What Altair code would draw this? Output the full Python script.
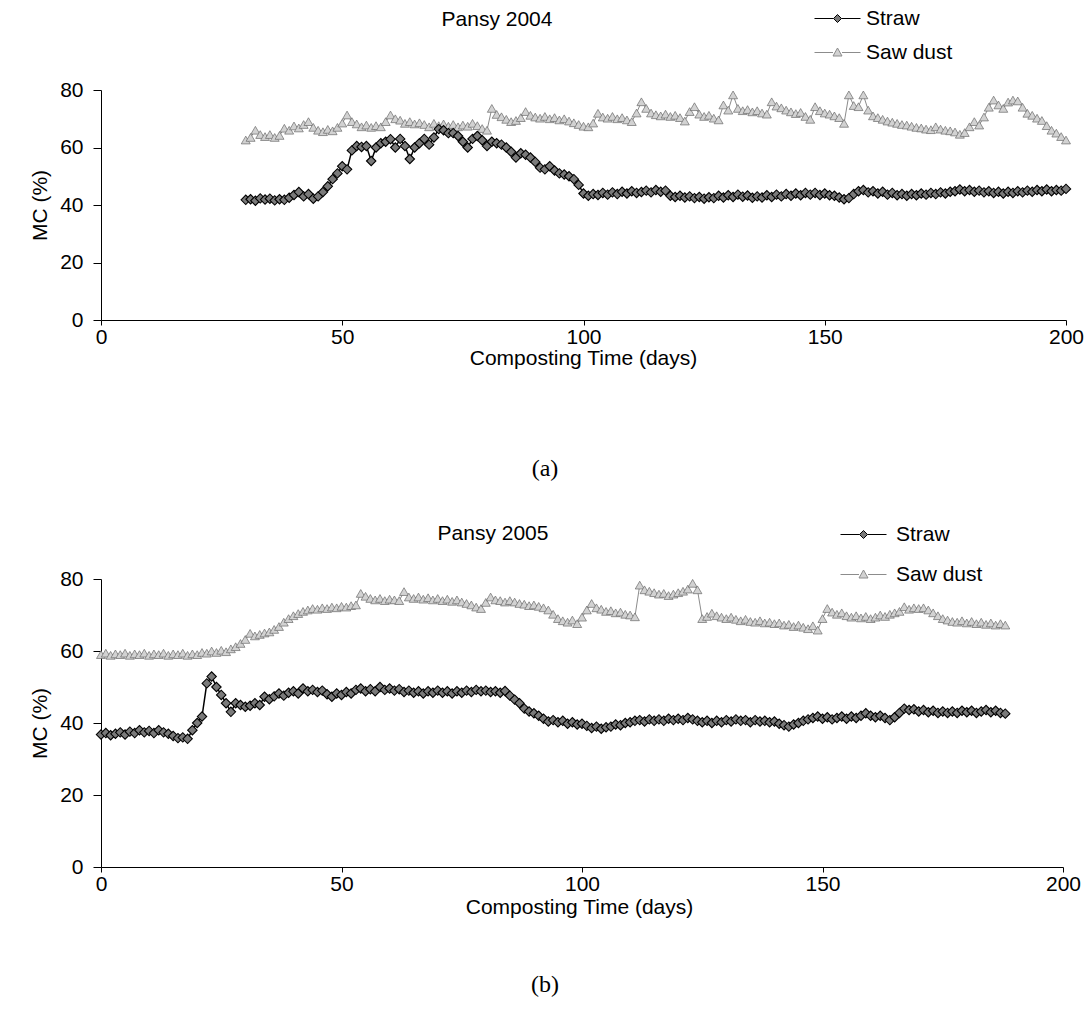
import altair as alt
import pandas as pd

# ---------------- data ----------------
SERIES = ["Straw", "Saw dust"]
X_TICKS = [0, 50, 100, 150, 200]
Y_TICKS = [0, 20, 40, 60, 80]

# Pansy 2004 : days 30 .. 200
A_DAYS = list(range(30, 201))
A_STRAW = [
    41.8, 42.0, 41.5, 42.3, 41.9, 42.2, 41.6, 42.0, 41.8, 42.5,
    43.5, 44.5, 43.0, 43.8, 42.2, 43.0, 44.5, 46.5, 49.0, 51.0,
    53.5, 52.4, 59.0, 60.5, 60.2, 60.5, 55.3, 60.0, 61.5, 62.0,
    62.9, 60.0, 63.0, 60.5, 56.0, 60.0, 61.5, 63.0, 61.0, 63.5,
    66.4, 66.0, 65.0, 65.0, 64.0, 62.0, 60.0, 63.0, 64.0, 62.5,
    60.5, 62.0, 61.5, 61.0, 60.0, 58.5, 56.5, 58.0, 57.5, 56.5,
    55.0, 53.0, 52.4, 53.5, 52.0, 51.0, 50.6, 50.0, 49.0, 47.0,
    44.0, 43.2, 43.8, 43.5, 44.2, 43.6, 44.4, 43.8, 44.6, 44.0,
    44.8, 44.2, 44.5, 45.0, 44.4, 45.2, 44.6, 45.0, 43.2, 42.8,
    43.2, 42.6, 43.0, 42.4, 42.8, 42.2, 42.7, 42.4, 43.2, 42.6,
    43.4, 42.8, 43.6, 42.9, 43.3, 42.5, 43.0, 42.6, 43.4, 42.8,
    43.6, 43.0, 43.8, 43.2, 44.0, 43.4, 44.2, 43.6, 44.2, 43.5,
    44.0, 43.4, 43.2, 42.6, 42.0, 42.4, 43.8, 44.8, 45.2, 44.4,
    44.8, 44.0, 44.6, 43.6, 44.2, 43.4, 43.8, 43.2, 43.8, 43.4,
    44.0, 43.6, 44.2, 43.8, 44.4, 44.0, 44.6, 44.8, 45.4, 44.8,
    45.2, 44.6, 45.0, 44.4, 44.8, 44.2, 44.6, 44.0, 44.6, 44.2,
    44.8, 44.4, 45.0, 44.6, 45.2, 44.8, 45.4, 44.8, 45.2, 45.0, 45.6,
]
A_SAWDUST = [
    62.6, 63.5, 66.0, 64.5, 63.8, 64.5, 63.5, 64.2, 66.7, 66.0,
    67.5, 66.8, 68.0, 69.0, 67.0, 66.0, 65.5, 66.3, 65.8, 67.0,
    68.5, 71.3, 69.0, 68.2, 67.2, 67.8, 67.0, 67.6, 67.2, 69.0,
    71.3, 70.0, 69.5, 68.4, 69.0, 68.2, 68.6, 68.0, 67.2, 68.4,
    67.6, 68.2, 67.4, 68.0, 67.2, 67.8, 67.4, 68.4, 67.6, 66.6,
    66.0, 73.6, 71.5, 70.7, 69.8, 69.0, 69.4, 70.4, 72.5, 71.2,
    70.6, 70.2, 70.8, 70.0, 70.4, 69.6, 70.0, 69.2, 68.6, 68.0,
    67.4, 67.2, 68.5, 71.9, 70.6, 70.2, 70.8, 70.0, 70.4, 69.6,
    69.0, 72.0, 75.9, 73.6, 72.0, 71.4, 71.0, 71.6, 70.8, 71.2,
    70.4, 69.2, 72.5, 74.2, 71.6, 70.8, 71.2, 70.2, 69.6, 74.8,
    73.0, 78.3, 73.6, 72.8, 73.2, 72.4, 72.8, 72.0, 71.6, 75.9,
    74.4, 73.8, 73.0, 72.4, 71.8, 72.2, 70.8, 69.8, 74.2, 72.8,
    72.0, 71.6, 71.0, 70.4, 68.4, 78.3, 74.6, 74.2, 78.3, 73.0,
    71.0, 70.4, 69.8, 69.2, 68.8, 68.4, 68.0, 67.8, 67.4, 67.0,
    66.8, 66.4, 66.2, 67.2, 66.4, 66.0, 65.8, 65.4, 64.6, 65.2,
    67.2, 69.0, 67.8, 70.6, 74.0, 76.5, 74.8, 73.6, 75.8, 76.5,
    76.2, 74.0, 71.9, 71.2, 70.2, 69.4, 67.6, 66.0, 65.0, 63.8, 62.6,
]

# Pansy 2005 : days 0 .. 188
B_DAYS = list(range(0, 189))
B_STRAW = [
    36.8, 37.2, 36.6, 37.0, 37.4, 36.8, 37.6, 37.2, 38.0, 37.4,
    37.8, 37.2, 38.0, 37.4, 37.0, 36.4, 35.8, 36.0, 35.6, 38.0,
    40.0, 41.8, 51.0, 52.9, 50.0, 47.8, 45.5, 43.1, 45.5, 45.0,
    44.5, 44.8, 45.5, 45.0, 47.3, 46.6, 47.4, 48.2, 47.6, 48.4,
    48.8, 48.2, 49.6, 48.8, 49.2, 48.6, 49.0, 48.0, 47.3, 48.2,
    47.8, 48.6, 48.2, 49.2, 49.6, 48.8, 49.4, 48.8, 50.0, 49.2,
    49.6, 49.0, 49.4, 48.6, 49.0, 48.4, 48.8, 48.2, 48.8, 48.4,
    49.0, 48.4, 48.8, 48.2, 48.8, 48.4, 49.0, 48.6, 49.2, 48.8,
    49.0, 48.6, 48.8, 48.4, 48.9, 47.6, 46.5, 45.5, 44.0, 43.2,
    42.7, 42.0, 41.2, 40.4, 40.8, 40.2, 40.6, 39.8, 40.2, 39.6,
    39.8, 39.2, 38.6, 39.0, 38.4, 38.8, 39.0, 39.6, 39.4, 40.0,
    40.2, 40.6, 40.8, 40.4, 41.0, 40.6, 41.0, 40.6, 41.2, 40.8,
    41.2, 40.8, 41.4, 41.0, 40.6, 40.2, 40.6, 40.0, 40.6, 40.2,
    40.8, 40.4, 41.0, 40.6, 40.8, 40.2, 40.8, 40.4, 40.6, 40.2,
    40.4, 39.8, 39.4, 39.0, 39.6, 40.0, 40.6, 41.0, 41.4, 41.8,
    41.2, 41.6, 41.0, 41.4, 41.8, 41.2, 41.8, 41.4, 42.0, 42.7,
    42.0, 41.6, 42.0, 41.4, 40.8, 41.6, 42.8, 44.0, 43.6, 43.8,
    43.2, 43.6, 43.0, 43.4, 42.8, 43.2, 42.8, 43.2, 42.8, 43.4,
    43.0, 43.4, 42.8, 43.2, 43.6, 43.0, 43.4, 42.8, 42.6,
]
B_SAWDUST = [
    59.0, 59.4, 58.8, 59.2, 59.0, 59.4, 58.8, 59.2, 59.0, 59.4,
    58.8, 59.2, 59.0, 59.4, 58.8, 59.2, 59.0, 59.4, 58.8, 59.2,
    59.0, 59.6, 59.4, 60.0, 59.6, 60.2, 59.8, 60.6, 61.2, 62.1,
    63.2, 64.9, 64.2, 64.6, 65.0, 65.3, 66.0, 66.8, 68.0, 69.0,
    69.8, 70.4, 71.0, 71.4, 71.8, 71.6, 72.0, 71.8, 72.2, 72.0,
    72.4, 72.2, 72.6, 72.8, 76.0, 75.2, 74.6, 74.2, 74.6, 74.0,
    74.4, 74.2, 74.0, 76.5, 75.0, 74.6, 75.0, 74.4, 74.8, 74.2,
    74.6, 74.0, 74.4, 73.8, 74.2, 73.6, 73.2, 72.8, 72.2, 71.8,
    73.5, 75.0, 74.2, 74.0, 73.6, 74.0, 73.6, 73.2, 73.0, 72.6,
    72.8, 72.4, 72.0, 71.4, 70.2, 69.0, 68.4, 68.0, 68.6, 67.6,
    69.4, 71.4, 73.2, 72.0, 71.6, 71.0, 71.2, 70.6, 70.8, 70.2,
    70.0, 69.5, 78.3, 77.0, 76.6, 76.2, 75.8, 76.0, 75.4, 75.8,
    76.2, 76.6, 77.2, 78.8, 77.0, 69.0, 69.6, 70.5, 69.8, 69.4,
    69.0, 69.4, 68.8, 68.4, 68.8, 68.2, 68.0, 68.4, 67.8, 68.0,
    67.6, 67.8, 67.2, 67.4, 66.8, 67.2, 66.6, 66.2, 67.0, 65.8,
    69.0, 71.8, 70.8, 70.2, 70.6, 69.8, 69.4, 69.8, 69.2, 69.6,
    69.0, 69.4, 70.0, 69.6, 70.2, 70.6, 71.0, 72.3, 71.6, 72.0,
    71.8, 72.0, 71.4, 70.6, 69.8, 69.0, 68.6, 68.2, 68.0, 68.4,
    67.8, 68.2, 67.6, 68.0, 67.4, 67.8, 67.2, 67.6, 67.2,
]

assert len(A_DAYS) == len(A_STRAW) == len(A_SAWDUST), (len(A_STRAW), len(A_SAWDUST))
assert len(B_DAYS) == len(B_STRAW) == len(B_SAWDUST), (len(B_STRAW), len(B_SAWDUST))

# ---------------- styling ----------------
W, H = 1091, 1011
FONT = "Liberation Sans"
SERIF = "Liberation Serif"
FS = 21

STRAW_LINE = "black"
STRAW_FILL = "#7a7a7a"
SAW_LINE = "#8c8c8c"
SAW_FILL = "#d2d2d2"
SAW_EDGE = "#6a6a6a"

# legend glyphs: short line with marker in the middle (unit = sqrt(size)/2 px)
P_STRAW = "M-4.6,0H-0.8M0.8,0H4.6M0,-0.8L0.8,0L0,0.8L-0.8,0Z"
P_SAW = "M-4.6,0H-0.9M0.9,0H4.6M0,-0.9L0.9,0.7L-0.9,0.7Z"

DUMMY = pd.DataFrame({"k": [0]})


def text(s, xv, yv, size=FS, font=FONT):
    return alt.Chart(DUMMY).mark_text(
        text=s, font=font, fontSize=size, color="black", align="center", baseline="middle"
    ).encode(x=alt.value(xv), y=alt.value(yv))


def panel(days, straw, saw, xr, yr, title, title_xy, leg_xy, leg_rowpad, leg_laboff,
          ytitle_y, xtitle_x, xtitle_dy, caption, cap_xy):
    df_s = pd.DataFrame({"day": days, "mc": straw, "series": "Straw"})
    df_d = pd.DataFrame({"day": days, "mc": saw, "series": "Saw dust"})

    x = alt.X(
        "day:Q",
        scale=alt.Scale(domain=[0, 200], range=xr, nice=False, zero=False),
        axis=alt.Axis(
            orient="bottom", offset=yr[0] - H, values=X_TICKS, format="d", grid=False,
            domainColor="black", tickColor="black", tickSize=5, labelPadding=1,
            labelFont=FONT, labelFontSize=FS, labelColor="black", labelFlush=False,
            title="Composting Time (days)", titleFont=FONT, titleFontSize=FS,
            titleFontWeight="normal", titleColor="black", titleX=xtitle_x, titleY=xtitle_dy,
            titleAlign="center", titleBaseline="middle",
        ),
    )
    y = alt.Y(
        "mc:Q",
        scale=alt.Scale(domain=[0, 80], range=yr, nice=False, zero=True),
        axis=alt.Axis(
            orient="left", offset=-xr[0], values=Y_TICKS, format="d", grid=False,
            domainColor="black", tickColor="black", tickSize=8, labelPadding=10,
            labelFont=FONT, labelFontSize=FS, labelColor="black",
            title="MC (%)", titleFont=FONT, titleFontSize=FS, titleFontWeight="normal",
            titleColor="black", titleX=40 - xr[0], titleY=ytitle_y, titleAngle=270,
            titleAlign="center", titleBaseline="middle",
        ),
    )

    saw_line = alt.Chart(df_d).mark_line(color=SAW_LINE, strokeWidth=1).encode(x=x, y=y)
    saw_pts = alt.Chart(df_d).mark_point(
        shape="triangle-up", filled=True, size=80, fill=SAW_FILL, stroke=SAW_EDGE,
        strokeWidth=0.7, opacity=1,
    ).encode(x=x, y=y)
    straw_line = alt.Chart(df_s).mark_line(color=STRAW_LINE, strokeWidth=1.5).encode(x=x, y=y)
    straw_pts = alt.Chart(df_s).mark_point(
        shape="diamond", filled=True, size=88, fill=STRAW_FILL, stroke="black",
        strokeWidth=1.1, opacity=1,
    ).encode(x=x, y=y)

    leg = alt.Legend(
        orient="none", legendX=leg_xy[0], legendY=leg_xy[1], title=None,
        labelFont=FONT, labelFontSize=FS, labelColor="black", labelOffset=leg_laboff,
        symbolSize=100, symbolStrokeWidth=1, rowPadding=leg_rowpad, padding=0,
    )
    legend_layer = alt.Chart(df_s).transform_filter("false").mark_point(
        filled=True, opacity=1
    ).encode(
        shape=alt.Shape("series:N", scale=alt.Scale(domain=SERIES, range=[P_STRAW, P_SAW]), legend=leg),
        fill=alt.Fill("series:N", scale=alt.Scale(domain=SERIES, range=[STRAW_FILL, SAW_FILL]), legend=leg),
        stroke=alt.Stroke("series:N", scale=alt.Scale(domain=SERIES, range=[STRAW_LINE, SAW_LINE]), legend=leg),
    )

    return alt.layer(
        saw_line, saw_pts, straw_line, straw_pts, legend_layer,
        text(title, *title_xy),
        text(caption, *cap_xy, size=24, font=SERIF),
    )


pA = panel(A_DAYS, A_STRAW, A_SAWDUST, xr=[101, 1066], yr=[320, 90],
           title="Pansy 2004", title_xy=(497, 20), leg_xy=(827, 8), leg_rowpad=12, leg_laboff=18,
           ytitle_y=205, xtitle_x=583, xtitle_dy=38, caption="(a)", cap_xy=(545, 469))
pB = panel(B_DAYS, B_STRAW, B_SAWDUST, xr=[101, 1063], yr=[867, 579],
           title="Pansy 2005", title_xy=(493, 534), leg_xy=(853, 524), leg_rowpad=18, leg_laboff=22,
           ytitle_y=723, xtitle_x=579, xtitle_dy=40, caption="(b)", cap_xy=(545, 985))

chart = (
    alt.layer(pA, pB)
    .resolve_scale(x="independent", y="independent", shape="independent",
                   fill="independent", stroke="independent")
    .resolve_axis(x="independent", y="independent")
    .resolve_legend(shape="independent", fill="independent", stroke="independent")
    .properties(width=W, height=H, padding=0, background="white",
                autosize=alt.AutoSizeParams(type="none"))
    .configure_view(stroke=None)
)

chart.save("out.html", embed_options={"renderer": "svg", "actions": False})
